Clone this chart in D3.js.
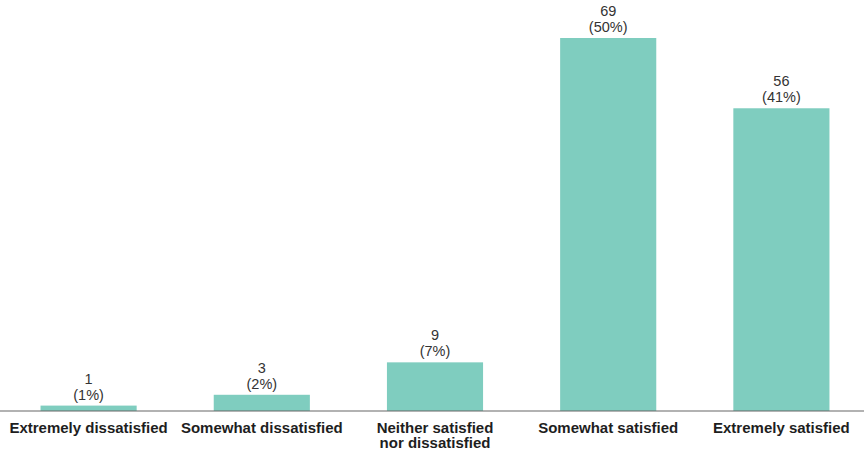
<!DOCTYPE html>
<html>
<head>
<meta charset="utf-8">
<script src="https://cdn.jsdelivr.net/npm/d3@7"></script>
<style>
  html, body { margin: 0; padding: 0; background: #fff; }
  svg { display: block; font-family: "Liberation Sans", Arial, sans-serif; }
</style>
</head>
<body>
<svg id="chart" width="864" height="453"></svg>
<script>
// Satisfaction responses
const categories = [
  ["Extremely dissatisfied"],
  ["Somewhat dissatisfied"],
  ["Neither satisfied", "nor dissatisfied"],
  ["Somewhat satisfied"],
  ["Extremely satisfied"]
];
const counts = [1, 3, 9, 69, 56];
const percents = ["1%", "2%", "7%", "50%", "41%"];

const width = 864, height = 453;
const baseY = 411, topY = 38;

const svg = d3.select("#chart");

const x = d3.scaleBand()
  .domain(d3.range(categories.length))
  .range([2, 868])
  .paddingInner(0.445)
  .paddingOuter(0.2225);

const y = d3.scaleLinear()
  .domain([0, d3.max(counts)])
  .range([baseY, topY]);

// bars
svg.append("g")
  .selectAll("rect")
  .data(counts)
  .join("rect")
  .attr("x", (d, i) => x(i))
  .attr("y", d => y(d))
  .attr("width", x.bandwidth())
  .attr("height", d => baseY - y(d))
  .attr("fill", "#7fcdbf");

// value labels: count over percentage
const labels = svg.append("g")
  .attr("font-size", 14.5)
  .attr("fill", "#333")
  .attr("text-anchor", "middle");

labels.selectAll("text.count")
  .data(counts)
  .join("text")
  .attr("class", "count")
  .attr("x", (d, i) => x(i) + x.bandwidth() / 2)
  .attr("y", d => y(d) - 22)
  .text(d => d);

labels.selectAll("text.pct")
  .data(percents)
  .join("text")
  .attr("class", "pct")
  .attr("x", (d, i) => x(i) + x.bandwidth() / 2)
  .attr("y", (d, i) => y(counts[i]) - 6)
  .text(d => "(" + d + ")");

// baseline axis
const axis = d3.axisBottom(x).tickSize(0).tickFormat("");
const ax = svg.append("g")
  .attr("transform", `translate(0,${baseY})`)
  .call(axis);
ax.select(".domain").remove();
ax.append("line")
  .attr("x1", 0).attr("x2", width)
  .attr("stroke", "#666").attr("stroke-width", 1.2);

// category labels
const cat = svg.append("g")
  .attr("font-size", 15)
  .attr("font-weight", "bold")
  .attr("fill", "#1e1e1e")
  .attr("text-anchor", "middle");

categories.forEach((lines, i) => {
  const t = cat.append("text")
    .attr("x", x(i) + x.bandwidth() / 2)
    .attr("y", 432.5);
  lines.forEach((ln, j) => {
    t.append("tspan")
      .attr("x", x(i) + x.bandwidth() / 2)
      .attr("dy", j === 0 ? 0 : 15.5)
      .text(ln);
  });
});
</script>
</body>
</html>
